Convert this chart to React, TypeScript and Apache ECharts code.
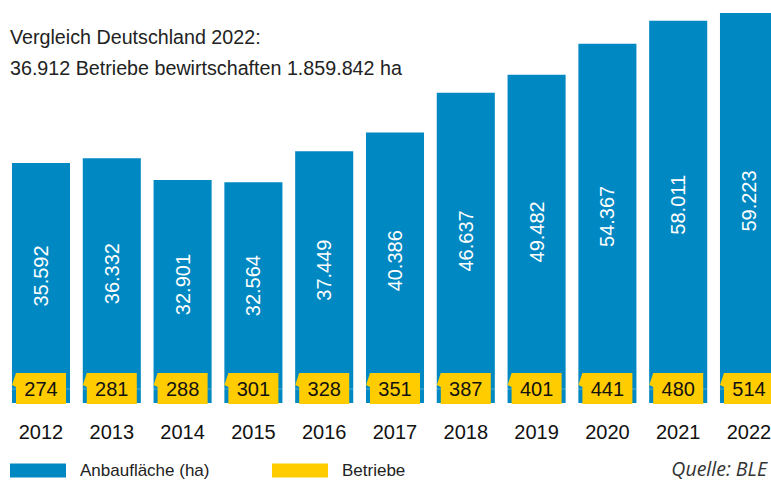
import React, { useEffect, useRef } from "react";
import * as echarts from "echarts";

const years = ["2012", "2013", "2014", "2015", "2016", "2017", "2018", "2019", "2020", "2021", "2022"];
const anbauflaeche = [35592, 36332, 32901, 32564, 37449, 40386, 46637, 49482, 54367, 58011, 59223];
const betriebe = [274, 281, 288, 301, 328, 351, 387, 401, 441, 480, 514];
const titleLines = ["Vergleich Deutschland 2022:", "36.912 Betriebe bewirtschaften 1.859.842 ha"];
const source = "Quelle: BLE";

const Y_MIN = -2200;
const Y_MAX = 60000;
const BLUE = "#0088c2";
const YELLOW = "#ffcc00";
const FONT = "'Liberation Sans', Arial, sans-serif";
const CHART_W = 790;

const fmt = (n: number) => String(n).replace(/\B(?=(\d{3})+(?!\d))/g, ".");

export default function App() {
  const ref = useRef<HTMLDivElement>(null);
  useEffect(() => {
    if (!ref.current) return;
    const chart = echarts.init(ref.current, null, { renderer: "svg" });
    chart.setOption({
      animation: false,
      backgroundColor: "#ffffff",
      title: {
        text: titleLines.join("\n"),
        left: 10,
        top: 21,
        padding: 0,
        textStyle: { fontFamily: FONT, fontSize: 19.7, fontWeight: "normal", color: "#222", lineHeight: 31 },
      },
      legend: [
        {
          data: ["Anbaufläche (ha)"],
          left: 10,
          top: 462,
          padding: 0,
          icon: "rect",
          itemWidth: 56,
          itemHeight: 14,
          textStyle: { fontFamily: FONT, fontSize: 17, color: "#222", padding: [0, 0, 0, 9] },
        },
        {
          data: ["Betriebe"],
          left: 272,
          top: 462,
          padding: 0,
          icon: "rect",
          itemWidth: 56,
          itemHeight: 14,
          textStyle: { fontFamily: FONT, fontSize: 17, color: "#222", padding: [0, 0, 0, 9] },
        },
      ],
      graphic: [
        {
          type: "text",
          right: CHART_W - 767,
          top: 458,
          style: { text: source, fontFamily: "'Open Sans', 'Noto Sans', sans-serif", fontStyle: "italic", fontSize: 19.5, fill: "#333" },
        },
      ],
      grid: { left: 5.6, right: CHART_W - 784.4, top: 8, bottom: 77 },
      xAxis: {
        type: "category",
        data: years,
        axisLine: { show: false },
        axisTick: { show: false },
        axisLabel: { fontFamily: FONT, fontSize: 20, color: "#111", margin: 19 },
      },
      yAxis: {
        type: "value",
        min: Y_MIN,
        max: Y_MAX,
        show: false,
        splitLine: { show: false },
      },
      series: [
        {
          name: "Anbaufläche (ha)",
          type: "custom",
          itemStyle: { color: BLUE },
          encode: { x: 0, y: 1 },
          data: anbauflaeche.map((v, i) => [i, v]),
          renderItem: (params: any, api: any) => {
            const idx = api.value(0);
            const v = api.value(1);
            const top = api.coord([idx, v]);
            const zero = api.coord([idx, 0]);
            const bottom = api.coord([idx, Y_MIN]);
            const w = api.size([1, 0])[0] * 0.82;
            const cx = top[0];
            return {
              type: "group",
              children: [
                {
                  type: "rect",
                  shape: { x: cx - w / 2, y: top[1], width: w, height: bottom[1] - top[1] },
                  style: { fill: BLUE },
                },
                {
                  type: "line",
                  shape: { x1: cx - w / 2, y1: zero[1], x2: cx + w / 2, y2: zero[1] },
                  style: { stroke: "rgba(255,255,255,0.3)", lineWidth: 1 },
                },
                {
                  type: "text",
                  x: cx,
                  y: (top[1] + zero[1]) / 2,
                  rotation: Math.PI / 2,
                  style: {
                    text: fmt(v),
                    fill: "#ffffff",
                    fontFamily: FONT,
                    fontSize: 20,
                    align: "center",
                    verticalAlign: "middle",
                  },
                },
              ],
            };
          },
        },
        {
          name: "Betriebe",
          type: "custom",
          z: 5,
          itemStyle: { color: YELLOW },
          encode: { x: 0, y: 1 },
          data: betriebe.map((v, i) => [i, v]),
          renderItem: (params: any, api: any) => {
            const idx = api.value(0);
            const v = api.value(1);
            const p = api.coord([idx, 0]);
            const cx = p[0];
            const y0 = p[1];
            return {
              type: "group",
              children: [
                {
                  type: "polygon",
                  shape: {
                    points: [
                      [cx - 25, y0 - 16],
                      [cx + 25, y0 - 16],
                      [cx + 25, y0 + 15],
                      [cx - 25, y0 + 15],
                      [cx - 25, y0 - 2],
                      [cx - 29, y0 - 4],
                    ],
                  },
                  style: { fill: YELLOW },
                },
                {
                  type: "text",
                  x: cx,
                  y: y0,
                  style: {
                    text: String(v),
                    fill: "#111",
                    fontFamily: FONT,
                    fontSize: 20,
                    align: "center",
                    verticalAlign: "middle",
                  },
                },
              ],
            };
          },
        },
      ],
    });
    return () => chart.dispose();
  }, []);
  return (
    <div style={{ position: "fixed", left: 0, top: 0, width: 771, height: 480, overflow: "hidden" }}>
      <div ref={ref} style={{ width: CHART_W, height: 480 }} />
    </div>
  );
}
